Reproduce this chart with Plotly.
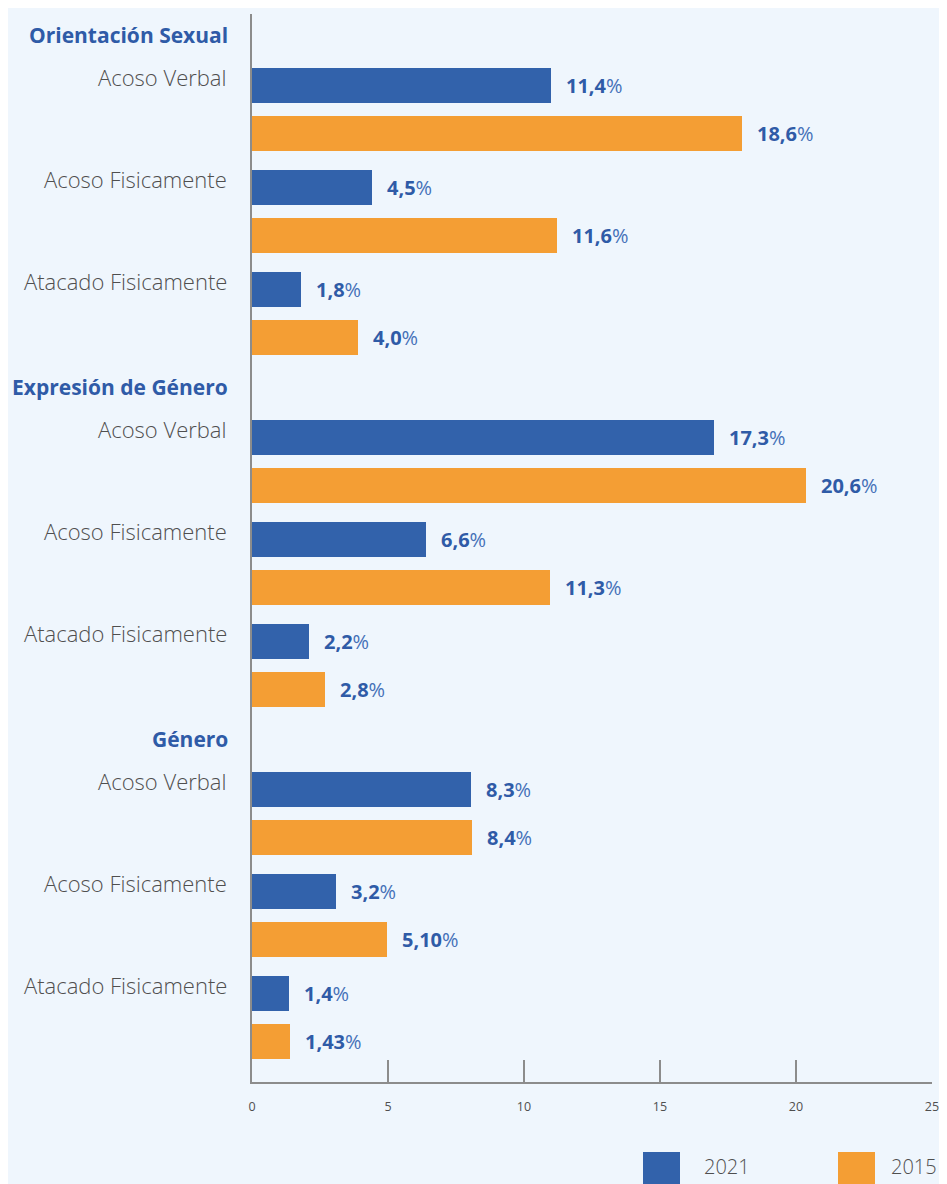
import plotly.graph_objects as go

# ---- data ----
groups = ["Orientación Sexual", "Expresión de Género", "Género"]
subcats = ["Acoso Verbal", "Acoso Fisicamente", "Atacado Fisicamente"]
series_names = ["2021", "2015"]
# bar lengths as drawn on the 0-25 axis
bars_2021 = [11.0, 4.4, 1.8, 17.0, 6.4, 2.1, 8.05, 3.1, 1.35]
bars_2015 = [18.0, 11.2, 3.9, 20.35, 10.95, 2.7, 8.1, 4.95, 1.4]
# value labels printed next to the bars
labels_2021 = ["11,4", "4,5", "1,8", "17,3", "6,6", "2,2", "8,3", "3,2", "1,4"]
labels_2015 = ["18,6", "11,6", "4,0", "20,6", "11,3", "2,8", "8,4", "5,10", "1,43"]
x_ticks = [0, 5, 10, 15, 20, 25]

# ---- style / layout constants ----
BLUE = "#3262AB"
ORANGE = "#F49E34"
BG = "#EFF6FD"
TXT_BLUE = "#2F5BA7"
GRAY = "#4f4f4f"
AXIS = "#8c8c8c"
FONT = "Open Sans"

OFF = 8                      # page body margin of the browser
W, H = 947 - 2 * OFF, 1184 - OFF
PL, PR, PT, PB = 252, 932, 14, 1082   # plot area in screen pixels
ML, MR, MT, MB = PL - OFF, (W + OFF) - PR, PT - OFF, (H + OFF) - PB
FIRST, GROUP_GAP, PAIR_GAP, BAR_GAP = 85.5, 352, 102, 47.5
BAR_W = 35

y_2021, y_2015, y_sub, y_head = [], [], [], []
for g in range(len(groups)):
    base = FIRST + g * GROUP_GAP
    y_head.append(base - 50.5)
    for p in range(len(subcats)):
        yb = base + p * PAIR_GAP
        y_2021.append(yb)
        y_2015.append(yb + BAR_GAP)
        y_sub.append(yb - 8.5)

fig = go.Figure()
fig.add_trace(go.Bar(x=bars_2021, y=y_2021, orientation="h", width=BAR_W,
                     marker=dict(color=BLUE, line=dict(width=0)), name=series_names[0],
                     hoverinfo="skip"))
fig.add_trace(go.Bar(x=bars_2015, y=y_2015, orientation="h", width=BAR_W,
                     marker=dict(color=ORANGE, line=dict(width=0)), name=series_names[1],
                     hoverinfo="skip"))

ann = []
for vals, labs, ys in [(bars_2021, labels_2021, y_2021), (bars_2015, labels_2015, y_2015)]:
    for v, lab, yy in zip(vals, labs, ys):
        ann.append(dict(x=v, y=yy, xref="x", yref="y", xanchor="left", yanchor="middle",
                        xshift=13, showarrow=False,
                        text=f"<b>{lab}</b><span style='color:#4571b8'>%</span>",
                        font=dict(family=FONT, size=20, color=TXT_BLUE)))
for i, s in enumerate(subcats * len(groups)):
    ann.append(dict(x=0, y=y_sub[i], xref="paper", yref="y", xanchor="right", yanchor="middle",
                    xshift=-23, showarrow=False, text=s,
                    font=dict(family=FONT, size=22, color=GRAY, weight=300)))
for g, name in enumerate(groups):
    ann.append(dict(x=0, y=y_head[g], xref="paper", yref="y", xanchor="right", yanchor="middle",
                    xshift=-22, showarrow=False, text=f"<b>{name}</b>",
                    font=dict(family=FONT, size=21, color=TXT_BLUE)))

# custom legend at the bottom (positions in screen pixels -> paper coords)
def px_x(px):
    return (px - PL) / (PR - PL)
def px_y(py):
    return (PB - py) / (PB - PT)

shapes = []
for (x0, x1, col, tx, name) in [(643, 680, BLUE, 702, series_names[0]),
                                (838, 875, ORANGE, 889, series_names[1])]:
    shapes.append(dict(type="rect", xref="paper", yref="paper",
                       x0=px_x(x0), x1=px_x(x1), y0=px_y(1152), y1=px_y(1200),
                       fillcolor=col, line=dict(width=0), layer="above"))
    ann.append(dict(x=px_x(tx), y=px_y(1166), xref="paper", yref="paper",
                    xanchor="left", yanchor="middle", showarrow=False, text=name,
                    font=dict(family=FONT, size=20, color=GRAY, weight=300)))

fig.update_layout(
    width=W, height=H,
    margin=dict(l=ML, r=MR, t=MT, b=MB, pad=0, autoexpand=False),
    paper_bgcolor=BG, plot_bgcolor=BG,
    showlegend=False,
    bargap=0,
    annotations=ann,
    shapes=shapes,
    xaxis=dict(range=[0, 25], tickvals=x_ticks, ticktext=[str(t) for t in x_ticks],
               ticks="inside", ticklen=22, tickwidth=2, tickcolor=AXIS,
               showline=True, linecolor=AXIS, linewidth=2,
               showgrid=False, zeroline=False, fixedrange=True,
               automargin=False, ticklabeloverflow="allow",
               tickfont=dict(family=FONT, size=12.5, color=GRAY), ticklabelstandoff=12),
    yaxis=dict(range=[PB, PT], showline=True, linecolor=AXIS, linewidth=2,
               showgrid=False, zeroline=False, showticklabels=False, ticks="",
               fixedrange=True, automargin=False),
)

fig.write_html("out.html")
